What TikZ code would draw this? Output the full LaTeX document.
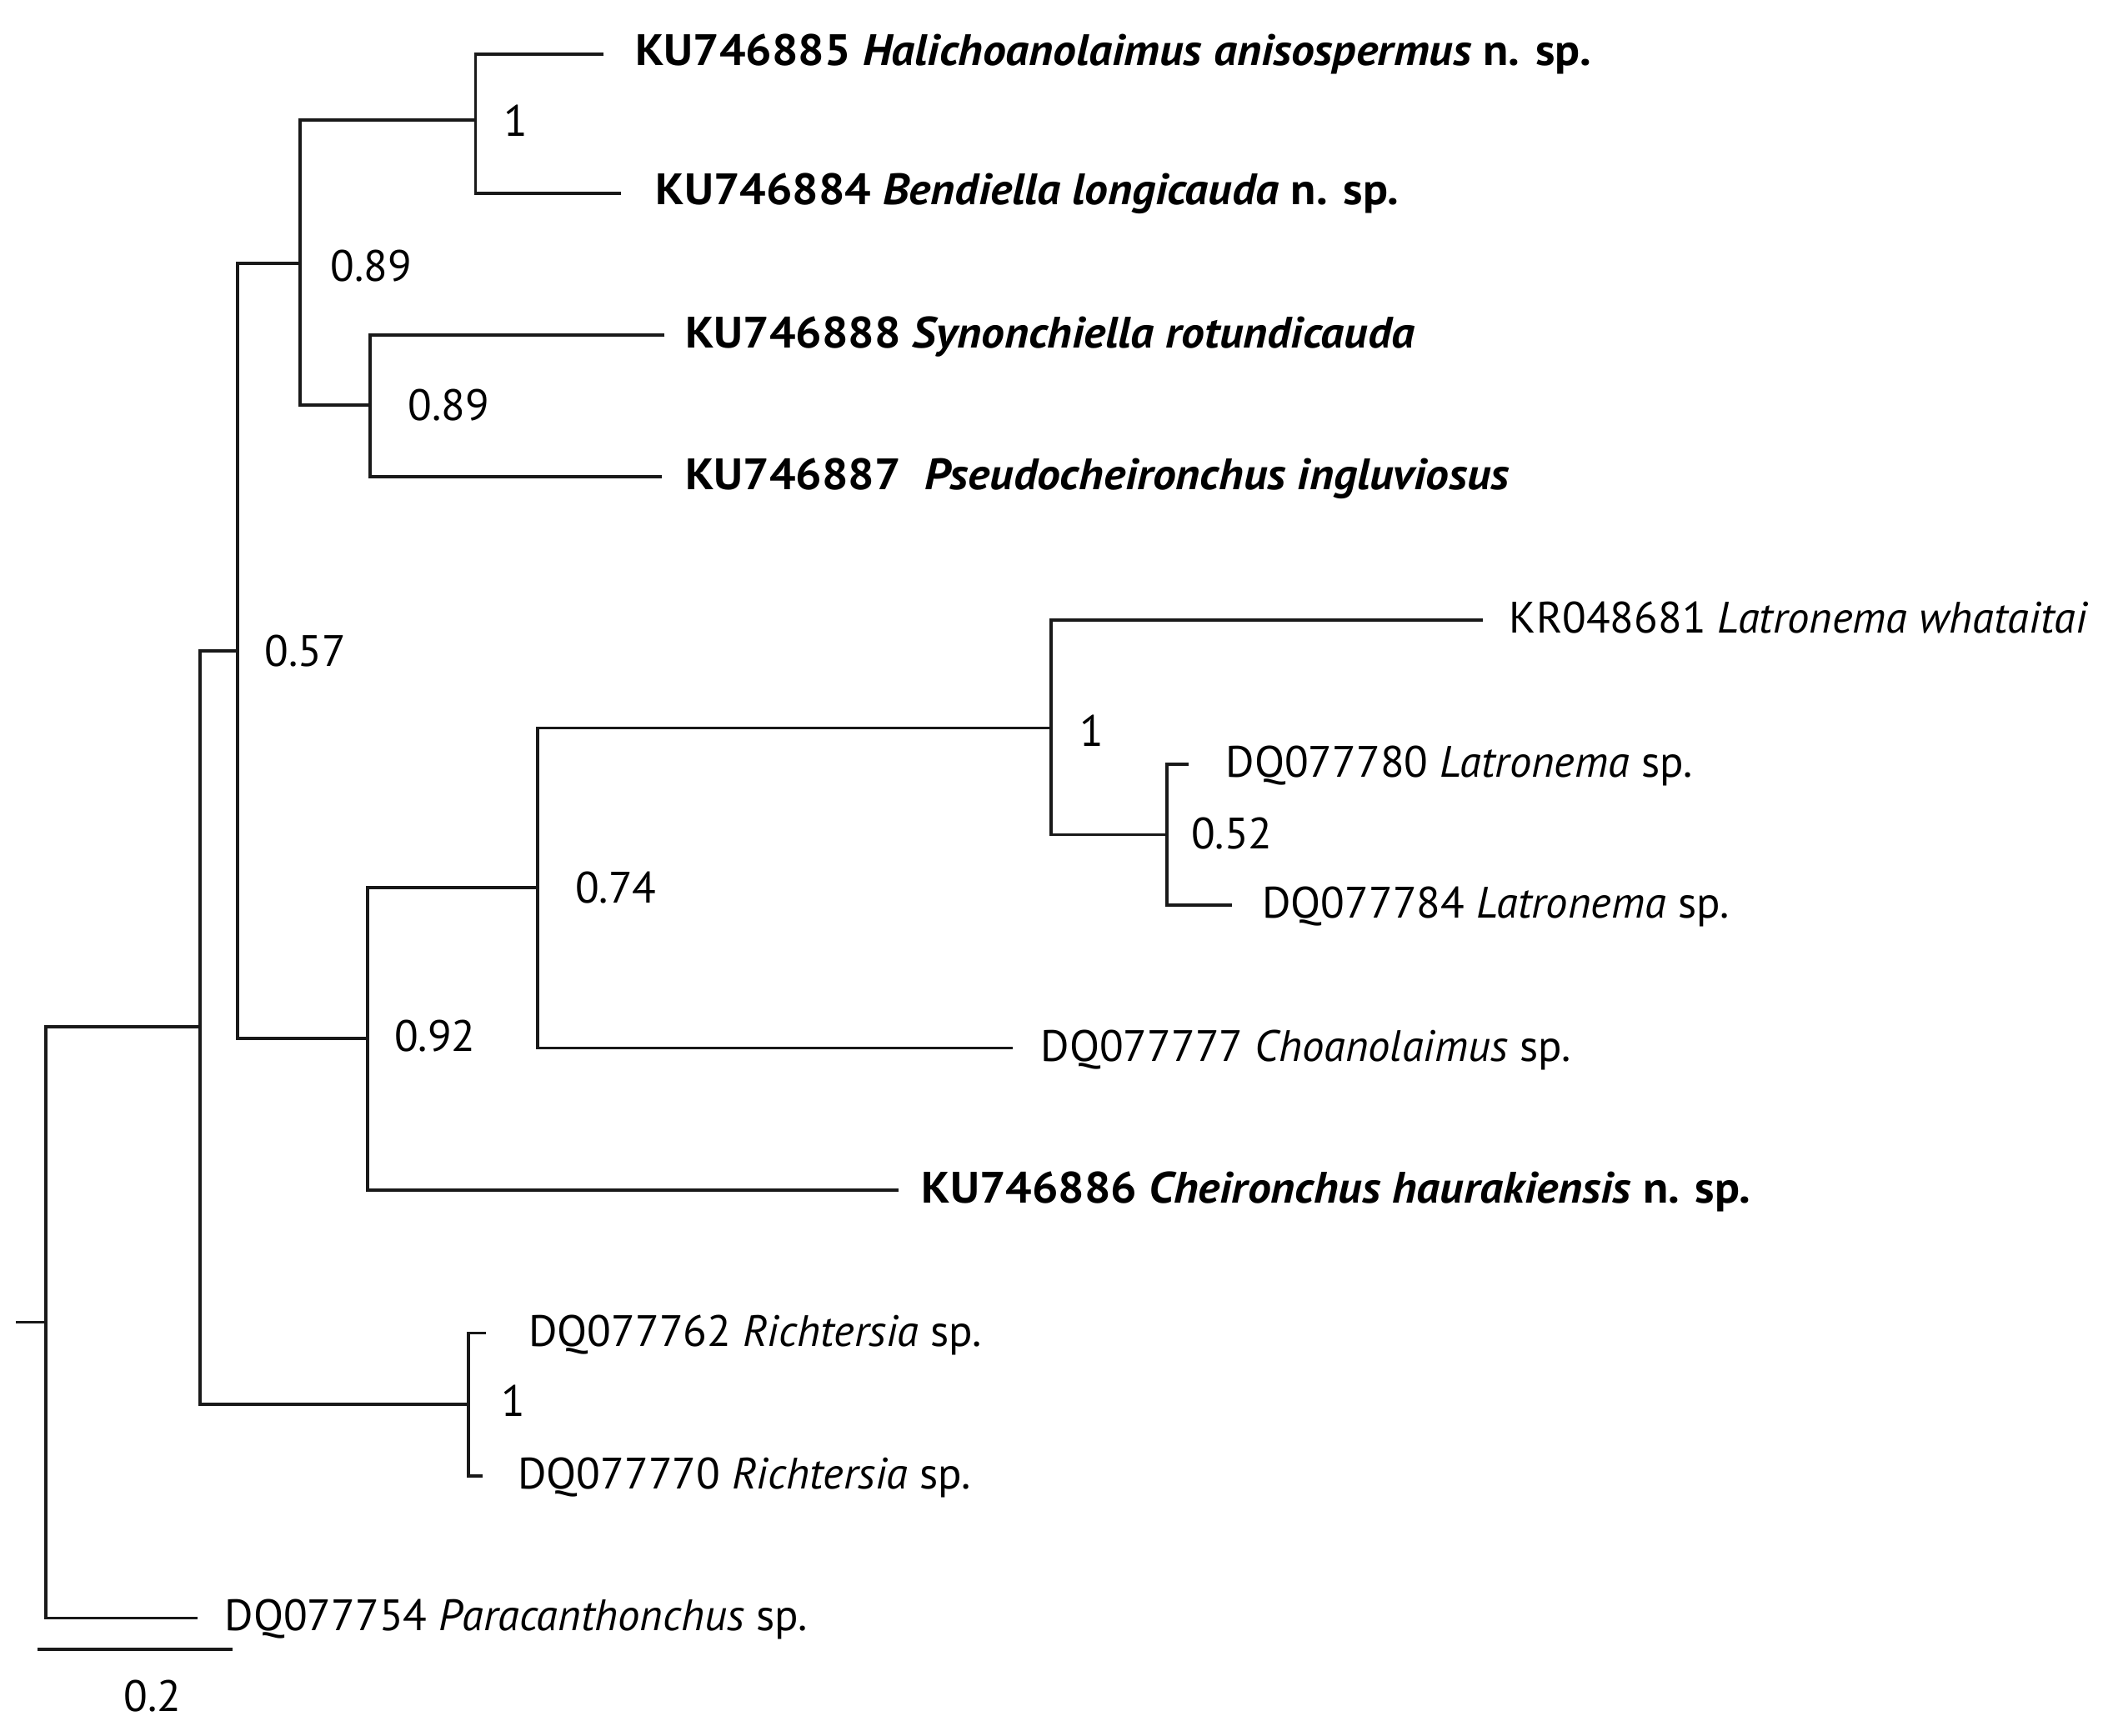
\documentclass[tikz,border=0pt]{standalone}
\usepackage{fontspec}
\setmainfont{PT Sans}[BoldFeatures={FakeStretch=1.055}, BoldItalicFeatures={FakeStretch=1.055}]

\begin{document}
\begin{tikzpicture}[x=0.16205mm, y=-0.16205mm, font=\fontsize{15}{18}\selectfont,
  br/.style={line width=1.1pt, black!90},
  leaf/.style={anchor=west, inner sep=0pt, text height=0.7em, text depth=0pt},
  newsp/.style={leaf, font=\fontsize{15}{18}\selectfont\bfseries},
  supp/.style={inner sep=0pt}]
\useasboundingbox (0,0) rectangle (1568,1285);
% internal nodes of the tree
\coordinate (stub) at (12,979);  \coordinate (root) at (34,979);
\coordinate (nA) at (148,760);   \coordinate (nB) at (176,482);
\coordinate (nC) at (222,195);   \coordinate (nD) at (352,89);
\coordinate (nE) at (274,300);   \coordinate (nF) at (272,769);
\coordinate (nG) at (398,657);   \coordinate (nH) at (778,539);
\coordinate (nI) at (864,618);   \coordinate (nJ) at (347,1040);
% branch tips
\coordinate (tHali) at (447,40);  \coordinate (tBend) at (460,143);
\coordinate (tSyno) at (492,248); \coordinate (tPseu) at (490,353);
\coordinate (tLatw) at (1098,459); \coordinate (tL80) at (880,566);
\coordinate (tL84) at (912,670);  \coordinate (tChoa) at (750,776);
\coordinate (tChei) at (665,881); \coordinate (tR62) at (360,987);
\coordinate (tR70) at (357,1093); \coordinate (tPara) at (146,1198);
% taxa
\node[newsp] (hali) at (470,41) {KU746885 \textit{Halichoanolaimus anisospermus} n. sp.};
\node[newsp] (bend) at (485,144) {KU746884 \textit{Bendiella longicauda} n. sp.};
\node[newsp] (syno) at (507,250) {KU746888 \textit{Synonchiella rotundicauda}};
\node[newsp] (pseu) at (507,355) {KU746887\ \ \textit{Pseudocheironchus ingluviosus}};
\node[leaf] (latw) at (1117,461) {KR048681 \textit{Latronema whataitai}};
\node[leaf] (lat80) at (907,568) {DQ077780 \textit{Latronema} sp.};
\node[leaf] (lat84) at (934,672) {DQ077784 \textit{Latronema} sp.};
\node[leaf] (choa) at (770,778) {DQ077777 \textit{Choanolaimus} sp.};
\node[newsp] (chei) at (682,883) {KU746886 \textit{Cheironchus haurakiensis} n. sp.};
\node[leaf] (ric62) at (391,989) {DQ077762 \textit{Richtersia} sp.};
\node[leaf] (ric70) at (383,1095) {DQ077770 \textit{Richtersia} sp.};
\node[leaf] (para) at (166,1200) {DQ077754 \textit{Paracanthonchus} sp.};
% posterior probabilities
\node[supp] (pD) at (382,89) {1};
\node[supp] (pC) at (275,197) {0.89};
\node[supp] (pE) at (332,300) {0.89};
\node[supp] (pB) at (226,482) {0.57};
\node[supp] (pF) at (322,767) {0.92};
\node[supp] (pG) at (456,657) {0.74};
\node[supp] (pH) at (808,541) {1};
\node[supp] (pI) at (912,617) {0.52};
\node[supp] (pJ) at (380,1037) {1};
% branches
\draw[br] (stub) -- (root);
\draw[br] (nA) -| (root) |- (tPara);
\draw[br] (nB) -| (nA) |- (nJ);
\draw[br] (nC) -| (nB) |- (nF);
\draw[br] (nD) -| (nC) |- (nE);
\draw[br] (tHali) -| (nD) |- (tBend);
\draw[br] (tSyno) -| (nE) |- (tPseu);
\draw[br] (nG) -| (nF) |- (tChei);
\draw[br] (nH) -| (nG) |- (tChoa);
\draw[br] (tLatw) -| (nH) |- (nI);
\draw[br] (tL80) -| (nI) |- (tL84);
\draw[br] (tR62) -| (nJ) |- (tR70);
% scale bar
\coordinate (sbL) at (28,1221); \coordinate (sbR) at (172,1221);
\draw[br] (sbL) -- (sbR);
\node[supp] (sb) at (113,1256) {0.2};
\end{tikzpicture}
\end{document}
